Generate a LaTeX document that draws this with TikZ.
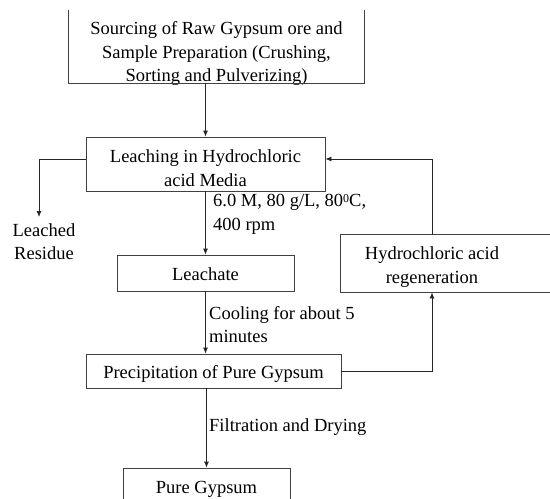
\documentclass[tikz,border=0pt]{standalone}
\usepackage{fontspec}
\setmainfont{Liberation Serif}
\usetikzlibrary{arrows.meta}

\begin{document}
\begin{tikzpicture}[x=1pt, y=-1pt, >={Latex[length=6pt,width=5pt]},
    box/.style={draw=black!75, line width=0.8pt, inner sep=0pt, align=center, font=\fontsize{18.5}{23.5}\selectfont},
    txt/.style={inner sep=0pt, align=left, font=\fontsize{18.5}{23.5}\selectfont},
    edge/.style={draw=black!75, line width=0.8pt},
    arr/.style={->, line width=0.8pt, black!85}]
    \useasboundingbox (0,0) rectangle (550,499);
    \clip (0,0) rectangle (550,499);

    % ボックスの定義
    \node[box, draw=none, minimum width=295pt, minimum height=73pt] (src) at (216.5,46.5) {};
    \node[txt, align=center] (srctext) at (216.5,53.7) {Sourcing of Raw Gypsum ore and\\Sample Preparation (Crushing,\\Sorting and Pulverizing)};
    \node[box, minimum width=239pt, text height=49pt, text depth=5pt] (leach) at (205.5,164) {Leaching in Hydrochloric\\acid Media};
    \node[box, minimum width=177pt, text height=25.7pt, text depth=10.3pt] (leachate) at (205.5,273) {Leachate};
    \node[box, minimum width=255pt, text height=24.3pt, text depth=9.7pt] (precip) at (213.5,371) {Precipitation of Pure Gypsum};
    \node[box, draw=none, minimum width=182pt, text height=48.3pt, text depth=8.7pt] (regen) at (432,263.5) {Hydrochloric acid\\regeneration};
    \node[box, minimum width=167pt, text height=25.3pt, text depth=15.7pt] (pure) at (206.5,488.5) {Pure Gypsum};

    % 枠線
    \draw[edge] (src.north west) -- (src.south west) -- (src.south east) -- (src.north east);
    \draw[edge] ([xshift=230pt]regen.north west) -- (regen.north west) -- (regen.south west) -- ([xshift=230pt]regen.south west);

    % ラベル
    \node[txt, align=center, anchor=north] (residue) at (44,223) {Leached\\Residue};
    \node[txt, anchor=north west] (cond) at (213,194) {6.0 M, 80 g/L, 80\raisebox{4pt}{\fontsize{12}{12}\selectfont 0}C,\\400 rpm};
    \node[txt, anchor=north west] (cool) at (209,306) {Cooling for about 5\\minutes};
    \node[txt, anchor=base west] (filt) at (209,431.7) {Filtration and Drying};

    % 矢印
    \draw[arr] (src.south -| leach.north) -- (leach.north);
    \draw[arr] (leach) -- (leachate);
    \draw[arr] (leachate.south) -- (leachate.south |- precip.north);
    \draw[arr] (precip.south -| pure.north) -- (pure.north);
    \draw[arr] ([yshift=5pt]leach.west) -| ([xshift=-5pt,yshift=6pt]residue.north);
    \draw[arr] (regen.north) |- ([yshift=5pt]leach.east);
    \draw[arr] (precip.east) -| (regen.south);
\end{tikzpicture}
\end{document}
